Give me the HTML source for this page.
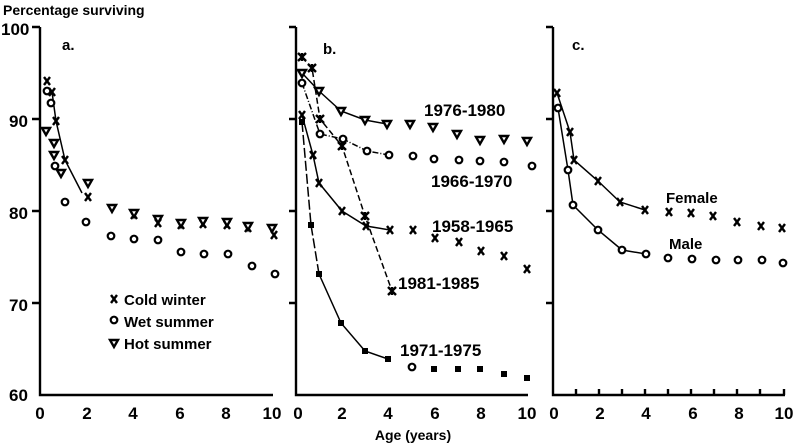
<!DOCTYPE html>
<html><head><meta charset="utf-8"><style>
body{margin:0;background:#fff}
svg{display:block}
text{font-family:"Liberation Sans",sans-serif;font-weight:bold;fill:#000}
</style></head><body>
<svg width="800" height="448" viewBox="0 0 800 448" xmlns="http://www.w3.org/2000/svg">
<defs>
<g id="x"><path d="M-3,-4 L3,4 M3,-4 L-3,4" stroke="#000" stroke-width="2.4" fill="none"/></g>
<g id="o"><circle r="3.3" fill="#fff" stroke="#000" stroke-width="2.2"/></g>
<g id="v"><path d="M-4,-3 L4,-3 L0,4 Z" fill="#fff" stroke="#000" stroke-width="2.4"/></g>
<g id="s"><rect x="-3" y="-3" width="6" height="6" fill="#000"/></g>
<g id="st"><path d="M-4,-4 L4,4 M4,-4 L-4,4 M0,-4 L0,4" stroke="#000" stroke-width="2.4"/></g>
</defs>
<text x="3" y="15" font-size="14">Percentage surviving</text>
<g stroke="#000" stroke-width="2.4" fill="none">
<path d="M40,27 V395 H273"/>
<path d="M296,27 V395 H528"/>
<path d="M553,27 V395 H785"/>
<path d="M32,27H40 M32,119H40 M32,211H40 M32,303H40"/>
<path d="M289,27H296 M289,119H296 M289,211H296 M289,303H296"/>
<path d="M546,27H553 M546,119H553 M546,211H553 M546,303H553"/>
<path d="M576,395v-6 M599,395v-6 M622,395v-6 M645,395v-6 M668,395v-6 M691,395v-6 M714,395v-6 M737,395v-6 M760,395v-6 M784,395v-6"/>
</g>
<g font-size="17">
<text x="1" y="35">100</text><text x="9" y="127">90</text><text x="9" y="219">80</text><text x="9" y="311">70</text><text x="9" y="401">60</text>
</g>
<g font-size="17" text-anchor="middle">
<text x="40" y="419">0</text><text x="87" y="419">2</text><text x="133" y="419">4</text><text x="180" y="419">6</text><text x="226" y="419">8</text><text x="272" y="419">10</text>
<text x="298" y="419">0</text><text x="342" y="419">2</text><text x="388" y="419">4</text><text x="435" y="419">6</text><text x="481" y="419">8</text><text x="527" y="419">10</text>
<text x="554" y="419">0</text><text x="600" y="419">2</text><text x="646" y="419">4</text><text x="693" y="419">6</text><text x="739" y="419">8</text><text x="784" y="419">10</text>
</g>
<text x="413" y="440" font-size="14" text-anchor="middle">Age (years)</text>
<text x="62" y="50" font-size="15">a.</text>
<text x="323" y="54" font-size="15">b.</text>
<text x="572" y="50" font-size="15">c.</text>

<path d="M47,88 L52,92 L56,121 L65,160 L82,193" stroke="#000" stroke-width="1.5" fill="none"/>
<g>
<use href="#x" x="47" y="81"/><use href="#x" x="52" y="92"/><use href="#x" x="56" y="121"/><use href="#x" x="65" y="160"/><use href="#x" x="88" y="197"/>
<use href="#x" x="134" y="215"/><use href="#x" x="158" y="223"/><use href="#x" x="181" y="225"/><use href="#x" x="203" y="224"/><use href="#x" x="227" y="225"/><use href="#x" x="248" y="228"/><use href="#x" x="274" y="235"/>
<use href="#o" x="47" y="91"/><use href="#o" x="51" y="103"/><use href="#o" x="55" y="166"/><use href="#o" x="65" y="202"/><use href="#o" x="86" y="222"/><use href="#o" x="111" y="236"/><use href="#o" x="134" y="239"/><use href="#o" x="158" y="240"/><use href="#o" x="181" y="252"/><use href="#o" x="204" y="254"/><use href="#o" x="228" y="254"/><use href="#o" x="252" y="266"/><use href="#o" x="275" y="274"/>
<use href="#v" x="46" y="131"/><use href="#v" x="54" y="143"/><use href="#v" x="54" y="155"/><use href="#v" x="61" y="173"/><use href="#v" x="88" y="183"/><use href="#v" x="112" y="208"/><use href="#v" x="134" y="213"/><use href="#v" x="158" y="219"/><use href="#v" x="181" y="223"/><use href="#v" x="203" y="221"/><use href="#v" x="227" y="222"/><use href="#v" x="248" y="226"/><use href="#v" x="272" y="228"/>
</g>
<use href="#x" x="114" y="299"/><use href="#o" x="114" y="320"/><use href="#v" x="114" y="343"/>
<g font-size="15"><text x="124" y="305">Cold winter</text><text x="124" y="327">Wet summer</text><text x="124" y="349">Hot summer</text></g>

<g fill="none" stroke="#000" stroke-width="1.5">
<path d="M302,73 L319,91 L341,111 L365,120 L387,124"/>
<path d="M302,83 L320,134 L343,139 L367,151 L389,155" stroke-dasharray="6,2,1,2"/>
<path d="M302,115 L313,155 L319,183 L342,211 L366,226 L390,230"/>
<path d="M302,57 L312,68 L320,119 L342,146 L365,216 L392,291" stroke-dasharray="6,3"/>
<path d="M302,122 L311,225 L319,274" stroke-dasharray="10,3"/>
<path d="M319,274 L341,323 L365,351 L388,359"/>
</g>
<g>
<use href="#v" x="302" y="73"/><use href="#v" x="319" y="91"/><use href="#v" x="341" y="111"/><use href="#v" x="365" y="120"/><use href="#v" x="387" y="124"/><use href="#v" x="410" y="124"/><use href="#v" x="433" y="127"/><use href="#v" x="457" y="134"/><use href="#v" x="480" y="140"/><use href="#v" x="504" y="139"/><use href="#v" x="527" y="141"/>
<use href="#o" x="302" y="83"/><use href="#o" x="320" y="134"/><use href="#o" x="343" y="139"/><use href="#o" x="367" y="151"/><use href="#o" x="389" y="155"/><use href="#o" x="413" y="156"/><use href="#o" x="434" y="159"/><use href="#o" x="459" y="160"/><use href="#o" x="480" y="161"/><use href="#o" x="504" y="162"/><use href="#o" x="532" y="166"/>
<use href="#x" x="302" y="115"/><use href="#x" x="313" y="155"/><use href="#x" x="319" y="183"/><use href="#x" x="342" y="211"/><use href="#x" x="366" y="226"/><use href="#x" x="390" y="230"/><use href="#x" x="413" y="230"/><use href="#x" x="435" y="238"/><use href="#x" x="459" y="242"/><use href="#x" x="481" y="251"/><use href="#x" x="504" y="256"/><use href="#x" x="527" y="269"/>
<use href="#st" x="302" y="57"/><use href="#st" x="312" y="68"/><use href="#st" x="320" y="119"/><use href="#st" x="342" y="146"/><use href="#st" x="365" y="216"/><use href="#st" x="392" y="291"/>
<use href="#s" x="302" y="122"/><use href="#s" x="311" y="225"/><use href="#s" x="319" y="274"/><use href="#s" x="341" y="323"/><use href="#s" x="365" y="351"/><use href="#s" x="388" y="359"/><use href="#o" x="412" y="367"/><use href="#s" x="434" y="369"/><use href="#s" x="458" y="369"/><use href="#s" x="480" y="369"/><use href="#s" x="504" y="374"/><use href="#s" x="527" y="378"/>
</g>
<g font-size="17">
<text x="424" y="116">1976-1980</text>
<text x="431" y="187">1966-1970</text>
<text x="432" y="232">1958-1965</text>
<text x="398" y="289">1981-1985</text>
<text x="400" y="356">1971-1975</text>
</g>

<g fill="none" stroke="#000" stroke-width="1.5">
<path d="M557,93 L570,132 L574,160 L598,181 L620,202 L645,210"/>
<path d="M558,108 L568,170 L573,205 L598,230 L622,250 L646,254"/>
</g>
<g>
<use href="#x" x="557" y="93"/><use href="#x" x="570" y="132"/><use href="#x" x="574" y="160"/><use href="#x" x="598" y="181"/><use href="#x" x="620" y="202"/><use href="#x" x="645" y="210"/><use href="#x" x="669" y="212"/><use href="#x" x="691" y="213"/><use href="#x" x="713" y="216"/><use href="#x" x="737" y="222"/><use href="#x" x="761" y="226"/><use href="#x" x="782" y="228"/>
<use href="#o" x="558" y="108"/><use href="#o" x="568" y="170"/><use href="#o" x="573" y="205"/><use href="#o" x="598" y="230"/><use href="#o" x="622" y="250"/><use href="#o" x="646" y="254"/><use href="#o" x="668" y="258"/><use href="#o" x="692" y="259"/><use href="#o" x="716" y="260"/><use href="#o" x="738" y="260"/><use href="#o" x="762" y="260"/><use href="#o" x="783" y="263"/>
</g>
<g font-size="15"><text x="666" y="203">Female</text><text x="669" y="249">Male</text></g>
</svg>
</body></html>
